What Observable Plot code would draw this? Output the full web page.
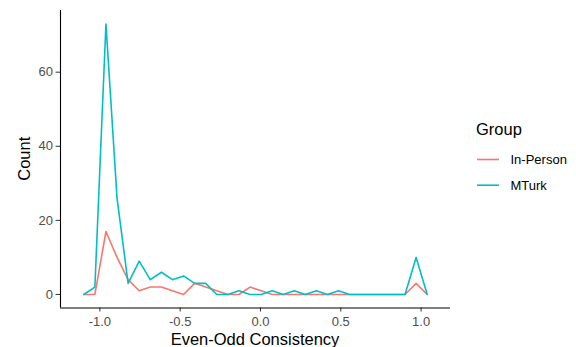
<!DOCTYPE html>
<html><head><meta charset="utf-8">
<script src="https://cdn.jsdelivr.net/npm/d3@7"></script>
<script src="https://cdn.jsdelivr.net/npm/@observablehq/plot@0.6"></script>
<style>body{margin:0;background:#fff;} #chart svg{display:block;}</style>
</head><body><div id="chart"></div>
<script>
const groups = ["In-Person", "MTurk"];
const colors = ["#F8766D", "#00BFC4"];
const binCenters = [-1.100, -1.031, -0.962, -0.893, -0.824, -0.755, -0.686, -0.617, -0.548, -0.479, -0.410, -0.341, -0.272, -0.203, -0.134, -0.065, 0.004, 0.073, 0.142, 0.210, 0.279, 0.348, 0.417, 0.486, 0.555, 0.624, 0.693, 0.762, 0.831, 0.900, 0.969, 1.038];
const inPersonCounts = [0, 0, 17, 10, 4, 1, 2, 2, 1, 0, 3, 2, 1, 0, 0, 2, 1, 0, 0, 0, 0, 0, 0, 0, 0, 0, 0, 0, 0, 0, 3, 0];
const mturkCounts = [0, 2, 73, 26, 3, 9, 4, 6, 4, 5, 3, 3, 0, 0, 1, 0, 0, 1, 0, 1, 0, 1, 0, 1, 0, 0, 0, 0, 0, 0, 10, 0];
const xTicks = [-1, -0.5, 0, 0.5, 1];
const yTicks = [0, 20, 40, 60];
const xDomain = [-1.245, 1.183];
const yDomain = [-3.65, 76.65];
const xTitle = "Even-Odd Consistency";
const yTitle = "Count";
const legendTitle = "Group";

const rows = [];
binCenters.forEach((x, i) => {
  rows.push({group: groups[0], x, count: inPersonCounts[i]});
  rows.push({group: groups[1], x, count: mturkCounts[i]});
});

const font = "'Liberation Sans', Arial, Helvetica, sans-serif";
const W = 576, H = 347, ML = 60, MR = 126, MT = 10, MB = 39.5;
const tickFS = 13, titleFS = 16.5;

const plot = Plot.plot({
  width: W, height: H, marginLeft: ML, marginRight: MR, marginTop: MT, marginBottom: MB,
  style: {fontFamily: font, background: "#fff", overflow: "visible"},
  x: {domain: xDomain},
  y: {domain: yDomain},
  color: {domain: groups, range: colors},
  marks: [
    Plot.axisX({ticks: xTicks, tickFormat: d => d.toFixed(1), tickSize: 4, tickPadding: 5, fontSize: tickFS, fill: "#4d4d4d", stroke: "#333", label: null}),
    Plot.axisY({ticks: yTicks, tickFormat: d => String(d), tickSize: 4.5, tickPadding: 3, fontSize: tickFS, fill: "#4d4d4d", stroke: "#333", label: null}),
    Plot.ruleX([xDomain[0]], {stroke: "#000", strokeWidth: 1.1}),
    Plot.ruleY([yDomain[0]], {stroke: "#000", strokeWidth: 1.1}),
    Plot.line(rows, {x: "x", y: "count", z: "group", stroke: "group", strokeWidth: 1.6})
  ]
});

const svg = d3.select(plot);
// axis titles
svg.append("text").attr("x", (ML + (W - MR)) / 2).attr("y", 345).attr("text-anchor", "middle")
  .attr("font-family", font).attr("font-size", titleFS).attr("fill", "#000").text(xTitle);
svg.append("text").attr("transform", `translate(29.5,${(MT + (H - MB)) / 2}) rotate(-90)`).attr("text-anchor", "middle")
  .attr("font-family", font).attr("font-size", titleFS).attr("fill", "#000").text(yTitle);
// legend
const lg = svg.append("g").attr("font-family", font).attr("text-anchor", "start");
lg.append("text").attr("x", 476).attr("y", 135).attr("text-anchor", "start").attr("font-size", titleFS).attr("fill", "#000").text(legendTitle);
groups.forEach((g, i) => {
  const y = 159.5 + i * 25.7;
  lg.append("line").attr("x1", 477).attr("x2", 499).attr("y1", y).attr("y2", y).attr("stroke", colors[i]).attr("stroke-width", 1.6);
  lg.append("text").attr("x", 510.5).attr("y", y).attr("dy", "0.35em").attr("text-anchor", "start").attr("font-size", tickFS).attr("fill", "#000").text(g);
});

document.getElementById("chart").appendChild(plot);
</script>
</body></html>
